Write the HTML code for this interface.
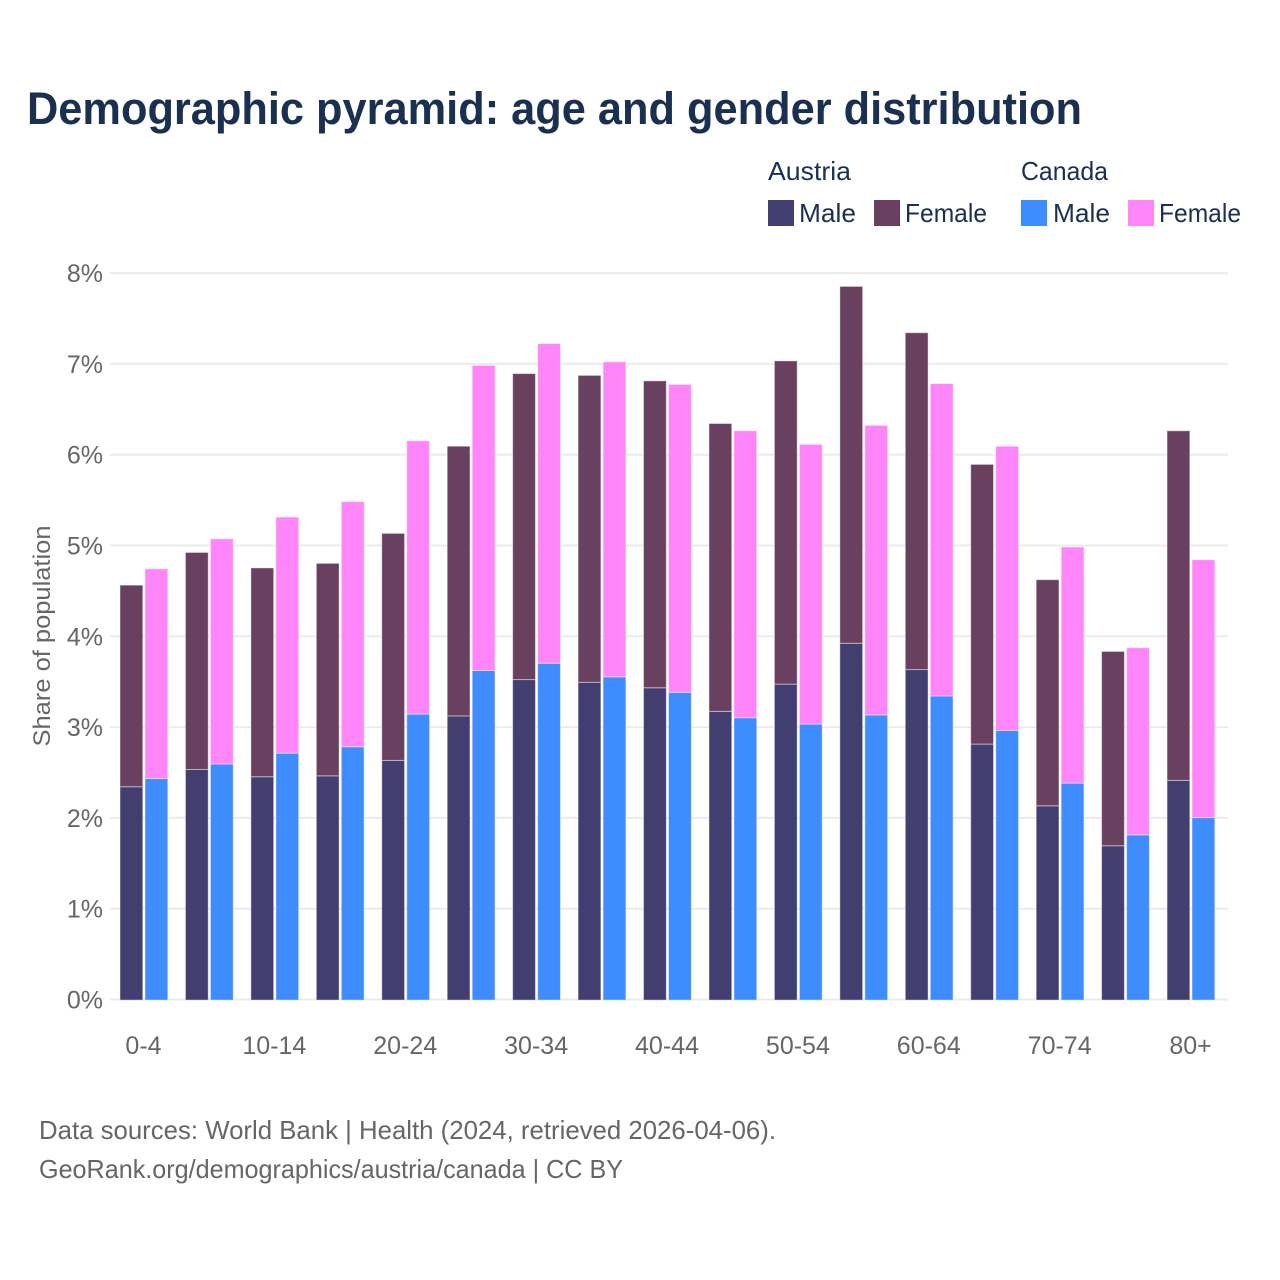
<!DOCTYPE html>
<html lang="en">
<head>
<meta charset="utf-8">
<title>Demographic pyramid: age and gender distribution</title>
<style>
html,body{margin:0;padding:0;background:#fff;width:1280px;height:1280px;overflow:hidden}
svg{display:block}
text{font-family:"Liberation Sans",sans-serif}
</style>
</head>
<body>
<svg id="chart" xmlns="http://www.w3.org/2000/svg" width="1280" height="1280" viewBox="0 0 1280 1280">
  <rect x="0" y="0" width="1280" height="1280" fill="#fff"/>
  <text x="27" y="124" font-size="45" font-weight="700" fill="#1a3050" textLength="1055" lengthAdjust="spacingAndGlyphs">Demographic pyramid: age and gender distribution</text>

  <g font-size="26" fill="#1a3050">
    <text x="768" y="180" textLength="83" lengthAdjust="spacingAndGlyphs">Austria</text>
    <text x="1021" y="180" textLength="87" lengthAdjust="spacingAndGlyphs">Canada</text>
    <rect x="768" y="200" width="26" height="26" fill="#433e70"/>
    <text x="799" y="222" textLength="57" lengthAdjust="spacingAndGlyphs">Male</text>
    <rect x="874" y="200" width="26" height="26" fill="#694060"/>
    <text x="905" y="222" textLength="82" lengthAdjust="spacingAndGlyphs">Female</text>
    <rect x="1021" y="200" width="26" height="26" fill="#3f8cff"/>
    <text x="1053" y="222" textLength="57" lengthAdjust="spacingAndGlyphs">Male</text>
    <rect x="1128" y="200" width="26" height="26" fill="#ff85f9"/>
    <text x="1159" y="222" textLength="82" lengthAdjust="spacingAndGlyphs">Female</text>
  </g>

  <g id="grid"></g>
  <g id="bars" transform="translate(0 0.6)"></g>
  <g id="ylabels"></g>
  <g id="xlabels"></g>

  <text transform="translate(50 636) rotate(-90)" text-anchor="middle" font-size="24" fill="#666" textLength="221" lengthAdjust="spacingAndGlyphs">Share of population</text>

  <text x="39" y="1139" font-size="26" fill="#666" textLength="737" lengthAdjust="spacingAndGlyphs">Data sources: World Bank | Health (2024, retrieved 2026-04-06).</text>
  <text x="39" y="1178" font-size="26" fill="#666" textLength="584" lengthAdjust="spacingAndGlyphs">GeoRank.org/demographics/austria/canada | CC BY</text>
</svg>
<script>
const categories = ['0-4','5-9','10-14','15-19','20-24','25-29','30-34','35-39','40-44','45-49','50-54','55-59','60-64','65-69','70-74','75-79','80+'];
const austriaMale = [2.35,2.54,2.46,2.47,2.64,3.13,3.53,3.50,3.44,3.18,3.48,3.93,3.64,2.82,2.14,1.70,2.42];
const austriaFemale = [2.22,2.39,2.30,2.34,2.50,2.97,3.37,3.38,3.38,3.17,3.56,3.93,3.71,3.08,2.49,2.14,3.85];
const canadaMale = [2.44,2.60,2.72,2.79,3.15,3.63,3.71,3.56,3.39,3.11,3.04,3.14,3.35,2.97,2.39,1.82,2.01];
const canadaFemale = [2.31,2.48,2.60,2.70,3.01,3.36,3.52,3.47,3.39,3.16,3.08,3.19,3.44,3.13,2.60,2.06,2.84];
const yTicks = [0,1,2,3,4,5,6,7,8];

const NS = 'http://www.w3.org/2000/svg';
const Y0 = 999.5, YPER = 90.8;
const GROUP0 = 120, GROUPSTEP = 65.44, BARW = 22.8, BARGAP = 25;
function yScale(v){ return Y0 - v * YPER; }
function groupX(i){ return GROUP0 + i * GROUPSTEP; }
function make(tag, attrs, parent){
  const el = document.createElementNS(NS, tag);
  for (const k in attrs) el.setAttribute(k, attrs[k]);
  parent.appendChild(el);
  return el;
}

const grid = document.getElementById('grid');
const ylabels = document.getElementById('ylabels');
yTicks.forEach(function(t){
  const line = make('line', {x1:110, x2:1228, y1:yScale(t), y2:yScale(t), stroke:'#ebebeb', 'stroke-width':2}, grid);
  
  
  const label = make('text', {x:103, y:yScale(t)+9, 'text-anchor':'end', 'font-size':25, fill:'#666'}, ylabels);
  
  
  label.textContent = t + '%';
});

const bars = document.getElementById('bars');
function addBar(x, base, value, fill, name){
  const top = yScale(base + value), bottom = yScale(base);
  const r = make('rect', {x:x, y:top, width:BARW, height:bottom-top, fill:fill, stroke:'#fff', 'stroke-opacity':0.45, 'stroke-width':1}, bars);
  
  
}
categories.forEach(function(cat, i){
  const x = groupX(i);
  addBar(x, 0, austriaMale[i], '#433e70', 'bar-austria-male-' + cat);
  addBar(x, austriaMale[i], austriaFemale[i], '#694060', 'bar-austria-female-' + cat);
  addBar(x + BARGAP, 0, canadaMale[i], '#3f8cff', 'bar-canada-male-' + cat);
  addBar(x + BARGAP, canadaMale[i], canadaFemale[i], '#ff85f9', 'bar-canada-female-' + cat);
});

const xlabels = document.getElementById('xlabels');
categories.forEach(function(cat, i){
  if (i % 2 !== 0) return;
  const label = make('text', {x:groupX(i)+23.5, y:1054, 'text-anchor':'middle', 'font-size':25, fill:'#666'}, xlabels);
  
  
  label.textContent = cat;
});
</script>
</body>
</html>
